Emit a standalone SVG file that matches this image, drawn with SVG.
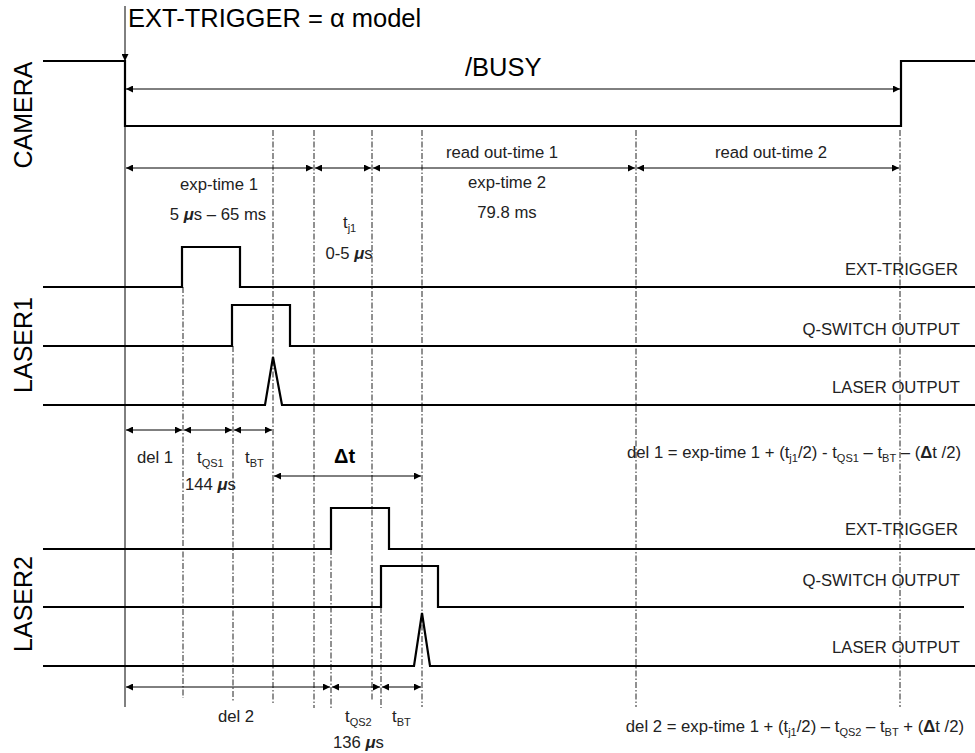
<svg xmlns="http://www.w3.org/2000/svg" width="975" height="753" viewBox="0 0 975 753">
<style>
  .sig{fill:none;stroke:#000;stroke-width:2.2;stroke-linejoin:miter}
  .dim{fill:none;stroke:#000;stroke-width:1;marker-start:url(#ah);marker-end:url(#ah)}
  .one{fill:none;stroke:#000;stroke-width:1}
  .dash{fill:none;stroke:#222;stroke-width:1;stroke-dasharray:6 2 1.5 2}
  text{font-family:"Liberation Sans",Arial,sans-serif;fill:#222}
  .big{font-size:25.5px;fill:#000}
  .rot{font-size:25px;fill:#000;text-anchor:middle}
  .sm{font-size:16.7px}
  .mid{text-anchor:middle}
  .end{text-anchor:end}
  .mu{font-weight:bold;font-style:italic}
  .sub{font-size:11px}
  .b{font-weight:bold}
</style>
<defs>
  <marker id="ah" viewBox="0 0 10 10" refX="10" refY="5" markerWidth="9" markerHeight="7" markerUnits="userSpaceOnUse" orient="auto-start-reverse">
    <path d="M0,0 L10,5 L0,10 z" fill="#000"/>
  </marker>
  <marker id="ahd" viewBox="0 0 10 10" refX="10" refY="5" markerWidth="9" markerHeight="7" markerUnits="userSpaceOnUse" orient="auto">
    <path d="M0,0 L10,5 L0,10 z" fill="#000"/>
  </marker>
</defs>
<rect width="975" height="753" fill="#fff"/>

<g id="connectors">
  <!-- dash-dot guides -->
  <line class="dash" x1="183" y1="287" x2="183" y2="698"/>
  <line class="dash" x1="233" y1="346" x2="233" y2="702"/>
  <line class="dash" x1="273" y1="130" x2="273" y2="705"/>
  <line class="dash" x1="314" y1="130" x2="314" y2="708"/>
  <line class="dash" x1="331" y1="549" x2="331" y2="708"/>
  <line class="dash" x1="372" y1="130" x2="372" y2="700"/>
  <line class="dash" x1="381" y1="607" x2="381" y2="708"/>
  <line class="dash" x1="422" y1="130" x2="422" y2="707"/>
  <line class="dash" x1="636" y1="130" x2="636" y2="707"/>
  <line class="dash" x1="900" y1="130" x2="900" y2="707"/>
  <!-- reference line -->
  <line class="one" x1="125" y1="126" x2="125" y2="707"/>
  <!-- trigger arrow -->
  <line class="one" x1="125" y1="6" x2="125" y2="61" marker-end="url(#ahd)"/>
  <!-- busy -->
  <line class="dim" x1="126" y1="89" x2="900" y2="89"/>
  <!-- camera timing -->
  <line class="dim" x1="126" y1="168" x2="313" y2="168"/>
  <line class="dim" x1="315" y1="168" x2="371" y2="168"/>
  <line class="dim" x1="373" y1="168" x2="635" y2="168"/>
  <line class="dim" x1="637" y1="168" x2="899" y2="168"/>
  <!-- laser1 timing -->
  <line class="dim" x1="126" y1="430" x2="182" y2="430"/>
  <line class="dim" x1="184" y1="430" x2="232" y2="430"/>
  <line class="dim" x1="234" y1="430" x2="272" y2="430"/>
  <line class="dim" x1="274" y1="476" x2="421" y2="476"/>
  <!-- laser2 timing -->
  <line class="dim" x1="126" y1="687" x2="330" y2="687"/>
  <line class="dim" x1="332" y1="687" x2="380" y2="687"/>
  <line class="dim" x1="382" y1="687" x2="421" y2="687"/>
</g>

<g id="camera">
  <text class="rot" transform="translate(32,115) rotate(-90)">CAMERA</text>
  <path class="sig" d="M43,61 H125 V126 H901 V61 H975"/>
  <text class="big" x="128" y="27">EXT-TRIGGER = α model</text>
  <text class="big" x="465" y="76">/BUSY</text>
  <text class="sm mid" x="502" y="158">read out-time 1</text>
  <text class="sm mid" x="771" y="158">read out-time 2</text>
  <text class="sm mid" x="219" y="190">exp-time 1</text>
  <text class="sm mid" x="218" y="220">5 <tspan class="mu">μ</tspan>s – 65 ms</text>
  <text class="sm mid" x="507" y="188">exp-time 2</text>
  <text class="sm mid" x="507" y="218">79.8 ms</text>
  <text class="sm" x="343" y="228">t<tspan class="sub" dy="4">j1</tspan></text>
  <text class="sm mid" x="349" y="259">0-5 <tspan class="mu">μ</tspan>s</text>
</g>

<g id="laser1">
  <text class="rot" transform="translate(32,345) rotate(-90)">LASER1</text>
  <path class="sig" d="M43,287 H182 V247 H240 V287 H975"/>
  <path class="sig" d="M43,346 H232 V305 H290 V346 H975"/>
  <path class="sig" d="M43,405 H265 L273,357 L282,405 H975"/>
  <text class="sm end" x="958" y="275">EXT-TRIGGER</text>
  <text class="sm end" x="960" y="335">Q-SWITCH OUTPUT</text>
  <text class="sm end" x="960" y="393">LASER OUTPUT</text>
  <text class="sm mid" x="155" y="463">del 1</text>
  <text class="sm" x="197" y="463">t<tspan class="sub" dy="4">QS1</tspan></text>
  <text class="sm" x="245" y="463">t<tspan class="sub" dy="4">BT</tspan></text>
  <text class="sm" x="185" y="490">144 <tspan class="mu">μ</tspan>s</text>
  <text class="b" x="334" y="463" style="font-size:20px;fill:#000">Δt</text>
  <text class="sm end" x="961" y="458">del 1 = exp-time 1 + (t<tspan class="sub" dy="4">j1</tspan><tspan dy="-4">/2) - t</tspan><tspan class="sub" dy="4">QS1</tspan><tspan dy="-4"> – t</tspan><tspan class="sub" dy="4">BT</tspan><tspan dy="-4"> – (</tspan><tspan class="b">Δ</tspan>t /2)</text>
</g>

<g id="laser2">
  <text class="rot" transform="translate(32,604) rotate(-90)">LASER2</text>
  <path class="sig" d="M43,549 H331 V508 H389 V549 H975"/>
  <path class="sig" d="M43,607 H381 V566 H438 V607 H964"/>
  <path class="sig" d="M43,666 H414 L422,613 L430,666 H975"/>
  <text class="sm end" x="958" y="535">EXT-TRIGGER</text>
  <text class="sm end" x="960" y="586">Q-SWITCH OUTPUT</text>
  <text class="sm end" x="960" y="653">LASER OUTPUT</text>
  <text class="sm mid" x="236" y="722">del 2</text>
  <text class="sm" x="345" y="722">t<tspan class="sub" dy="4">QS2</tspan></text>
  <text class="sm" x="392" y="722">t<tspan class="sub" dy="4">BT</tspan></text>
  <text class="sm" x="333" y="748">136 <tspan class="mu">μ</tspan>s</text>
  <text class="sm end" x="964" y="732">del 2 = exp-time 1 + (t<tspan class="sub" dy="4">j1</tspan><tspan dy="-4">/2) – t</tspan><tspan class="sub" dy="4">QS2</tspan><tspan dy="-4"> – t</tspan><tspan class="sub" dy="4">BT</tspan><tspan dy="-4"> + (</tspan><tspan class="b">Δ</tspan>t /2)</text>
</g>
</svg>
